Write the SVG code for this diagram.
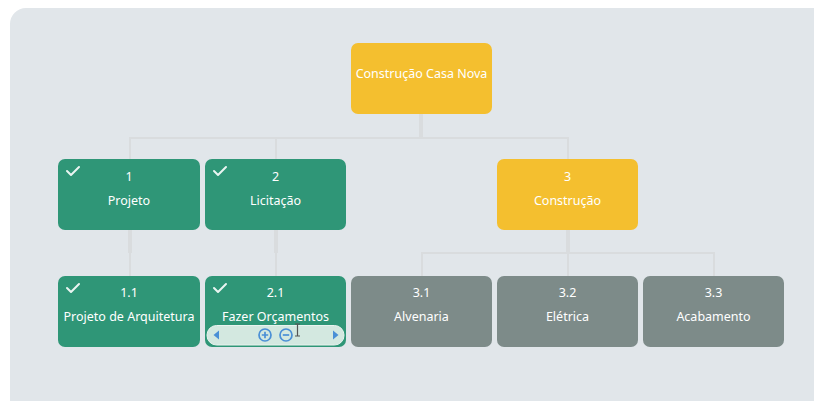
<svg xmlns="http://www.w3.org/2000/svg" width="814" height="401" viewBox="0 0 814 401">
  <defs>
    <style>
      .panel { fill: #E1E6EA; }
      .node rect.box { stroke: none; }
      .done rect.box { fill: #2F9677; }
      .active rect.box { fill: #F4BF2F; }
      .todo rect.box { fill: #7D8B89; }
      .node text { font-family: "Segoe UI", "Noto Sans", "Open Sans", sans-serif; font-size: 12.5px; fill: #FFFFFF; text-anchor: middle; }
      .check { fill: none; stroke: #FFFFFF; stroke-width: 2; stroke-linecap: round; stroke-linejoin: round; opacity: 0.9; }
      .link { fill: none; stroke: #D9DCDE; stroke-width: 2; }
      .stub { fill: none; stroke: #D9DCDE; stroke-width: 4; }
      .tool { fill: #4A8FD6; }
      .toolring { fill: none; stroke: #4A8FD6; stroke-width: 1.7; }
    </style>
  </defs>

  <rect x="0" y="0" width="814" height="401" fill="#FFFFFF"/>
  <rect class="panel" x="10" y="8" width="830" height="420" rx="16" ry="16"/>

  <!-- connectors -->
  <g id="connectors">
    <line class="stub" x1="421" y1="114" x2="421" y2="138"/>
    <polyline class="link" points="130,159 130,138 568,138 568,159"/>
    <line class="link" x1="276" y1="138" x2="276" y2="159"/>

    <line class="stub" x1="130" y1="230" x2="130" y2="253"/>
    <line class="link" x1="130" y1="253" x2="130" y2="276"/>
    <line class="stub" x1="276" y1="230" x2="276" y2="253"/>
    <line class="link" x1="276" y1="253" x2="276" y2="276"/>

    <line class="stub" x1="568" y1="230" x2="568" y2="253"/>
    <polyline class="link" points="422,276 422,253 714,253 714,276"/>
    <line class="link" x1="568" y1="253" x2="568" y2="276"/>
  </g>

  <!-- root -->
  <g id="node-root" class="node active">
    <rect class="box" x="351" y="43" width="141" height="71" rx="7"/>
    <text x="421.5" y="78">Construção Casa Nova</text>
  </g>

  <!-- level 1 -->
  <g id="node-1" class="node done">
    <rect class="box" x="58" y="159" width="142" height="71" rx="7"/>
    <polyline class="check" points="67,171 71,175 79,167"/>
    <text x="129" y="181">1</text>
    <text x="129" y="205">Projeto</text>
  </g>
  <g id="node-2" class="node done">
    <rect class="box" x="205" y="159" width="141" height="71" rx="7"/>
    <polyline class="check" points="214,171 218,175 226,167"/>
    <text x="275.5" y="181">2</text>
    <text x="275.5" y="205">Licitação</text>
  </g>
  <g id="node-3" class="node active">
    <rect class="box" x="497" y="159" width="141" height="71" rx="7"/>
    <text x="567.5" y="181">3</text>
    <text x="567.5" y="205">Construção</text>
  </g>

  <!-- level 2 -->
  <g id="node-1-1" class="node done">
    <rect class="box" x="58" y="276" width="142" height="71" rx="7"/>
    <polyline class="check" points="67,288 71,292 79,284"/>
    <text x="129" y="297">1.1</text>
    <text x="129" y="321">Projeto de Arquitetura</text>
  </g>
  <g id="node-2-1" class="node done">
    <rect class="box" x="205" y="276" width="141" height="71" rx="7"/>
    <polyline class="check" points="214,288 218,292 226,284"/>
    <text x="275.5" y="297">2.1</text>
    <text x="275.5" y="321">Fazer Orçamentos</text>
    <!-- inline toolbar -->
    <rect x="207" y="325.5" width="137" height="19.5" rx="9.5" fill="#D3E8E0" stroke="#E9F3EF" stroke-width="1"/>
    <path class="tool" d="M219,330.5 L219,339.5 L213.5,335 Z"/>
    <path class="tool" d="M333,330.5 L333,339.5 L338.5,335 Z"/>
    <circle class="toolring" cx="265" cy="335" r="6"/>
    <path d="M261.8,335 H268.2 M265,331.8 V338.2" stroke="#4A8FD6" stroke-width="1.7"/>
    <circle class="toolring" cx="286" cy="335" r="6"/>
    <path d="M282.8,335 H289.2" stroke="#4A8FD6" stroke-width="1.7"/>
    <!-- text cursor -->
    <path d="M295,324 H300 M297.5,324 V336 M295,336 H300" stroke="#555555" stroke-width="1.2" fill="none"/>
  </g>
  <g id="node-3-1" class="node todo">
    <rect class="box" x="351" y="276" width="141" height="71" rx="7"/>
    <text x="421.5" y="297">3.1</text>
    <text x="421.5" y="321">Alvenaria</text>
  </g>
  <g id="node-3-2" class="node todo">
    <rect class="box" x="497" y="276" width="141" height="71" rx="7"/>
    <text x="567.5" y="297">3.2</text>
    <text x="567.5" y="321">Elétrica</text>
  </g>
  <g id="node-3-3" class="node todo">
    <rect class="box" x="643" y="276" width="141" height="71" rx="7"/>
    <text x="713.5" y="297">3.3</text>
    <text x="713.5" y="321">Acabamento</text>
  </g>
</svg>
